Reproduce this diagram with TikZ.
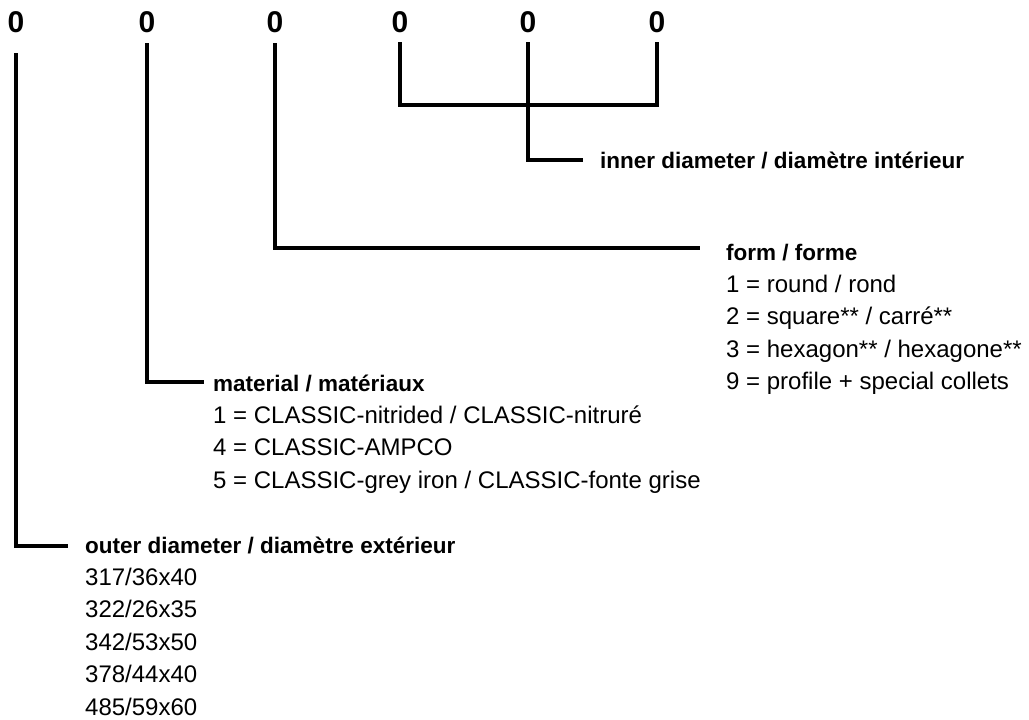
\documentclass[tikz,border=0pt]{standalone}
\usepackage{fontspec}
\setmainfont{Liberation Sans}
\usetikzlibrary{positioning}

\tikzset{
    digit/.style={font=\fontsize{30}{30}\selectfont\bfseries, inner sep=0pt, anchor=base},
    head/.style={font=\fontsize{22.5}{32}\selectfont\bfseries, inner sep=0pt,
        text height=17pt, text depth=15pt, anchor=base west},
    item/.style={font=\fontsize{24}{32}\selectfont, inner sep=0pt,
        text height=17pt, text depth=15pt},
    wire/.style={line width=4pt},
}

\begin{document}
\begin{tikzpicture}[x=1pt, y=-1pt]
\useasboundingbox (0,0) rectangle (1029,720);

% code digits
\node [digit] (d1) at (16,32) {0};
\node [digit] (d2) at (147,32) {0};
\node [digit] (d3) at (275,32) {0};
\node [digit] (d4) at (400,32) {0};
\node [digit] (d5) at (528,32) {0};
\node [digit] (d6) at (657,32) {0};

% inner diameter
\node [head] (inner) at (600,168) {inner diameter / diam\`etre int\'erieur};

% form
\node [head] (form) at (726,260) {form / forme};
\node [item, below right=0pt and 0pt of form.south west] (f1) {1 = round / rond};
\node [item, below right=0pt and 0pt of f1.south west] (f2) {2 = square** / carr\'e**};
\node [item, below right=0pt and 0pt of f2.south west] (f3) {3 = hexagon** / hexagone**};
\node [item, below right=0pt and 0pt of f3.south west] (f9) {9 = profile + special collets};

% material
\node [head] (material) at (213,391) {material / mat\'eriaux};
\node [item, below right=0pt and 0pt of material.south west] (m1) {1 = CLASSIC-nitrided / CLASSIC-nitrur\'e};
\node [item, below right=0pt and 0pt of m1.south west] (m4) {4 = CLASSIC-AMPCO};
\node [item, below right=0pt and 0pt of m4.south west] (m5) {5 = CLASSIC-grey iron / CLASSIC-fonte grise};

% outer diameter
\node [head] (outer) at (85,553) {outer diameter / diam\`etre ext\'erieur};
\node [item, below right=0pt and 0pt of outer.south west] (o1) {317/36x40};
\node [item, below right=0pt and 0pt of o1.south west] (o2) {322/26x35};
\node [item, below right=0pt and 0pt of o2.south west] (o3) {342/53x50};
\node [item, below right=0pt and 0pt of o3.south west] (o4) {378/44x40};
\node [item, text depth=0pt, below right=0pt and 0pt of o4.south west] (o5) {485/59x60};

% connectors
\coordinate (brk) at (528,105);
\draw [wire] ([yshift=-10pt]d4.south) |- (brk) -| ([yshift=-10pt]d6.south);
\draw [wire] ([yshift=-10pt]d5.south) |- ([xshift=-17pt, yshift=8pt]inner.base west);
\draw [wire] ([yshift=-11pt]d3.south) |- ([xshift=-26pt, yshift=12pt]form.base west);
\draw [wire] ([yshift=-11pt]d2.south) |- ([xshift=-9pt, yshift=9pt]material.base west);
\draw [wire] ([yshift=-21pt]d1.south) |- ([xshift=-17pt, yshift=7pt]outer.base west);
\end{tikzpicture}
\end{document}
